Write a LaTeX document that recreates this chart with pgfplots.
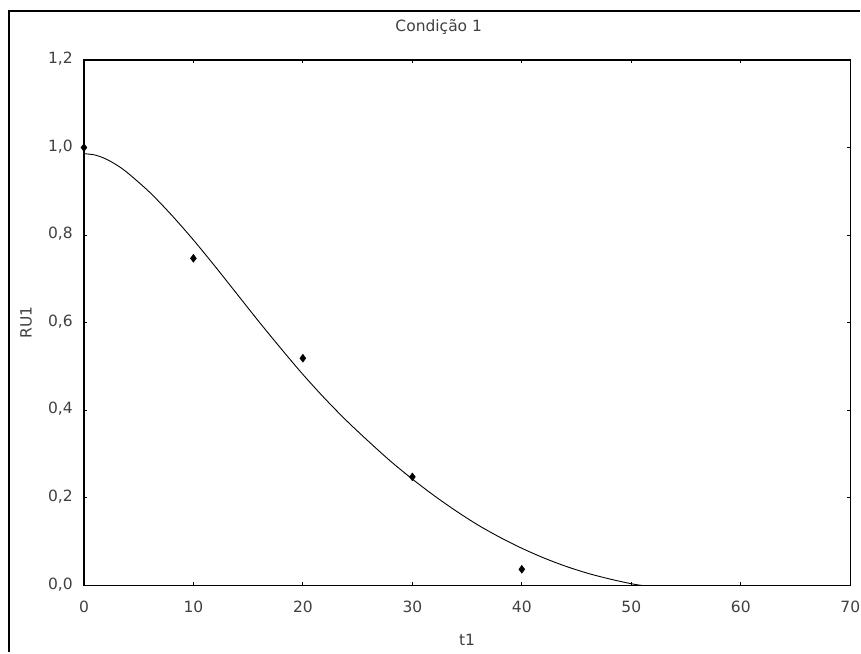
\documentclass[border=0pt]{standalone}
\usepackage{pgfplots}
\pgfplotsset{compat=1.18}
\usepackage{fontspec}
\setmainfont{DejaVu Sans}
\begin{document}
\fontsize{15.5}{18}\selectfont
\begin{tikzpicture}[x=1pt,y=1pt]
\path (0,0) rectangle (861,653);
\draw[black,line width=1.5pt] (9,0) -- (9,642) -- (861,642);
\begin{axis}[
  at={(84pt,67pt)}, anchor=south west,
  scale only axis, width=767pt, height=526pt,
  xmin=0, xmax=70, ymin=0, ymax=1.2,
  xtick={0,10,...,70}, ytick={0,0.2,...,1.2},
  axis line style={line width=1.3pt,black},
  tick align=inside, major tick length=3pt,
  tick style={line width=1pt,black},
  /pgf/number format/assume math mode=true,
  every tick label/.append style={font=\fontsize{15.5}{18}\selectfont, text=black!75},
  yticklabel style={/pgf/number format/.cd,use comma,fixed,fixed zerofill,precision=1,/tikz/.cd, anchor=base east, inner sep=0pt, xshift=-11pt, yshift=-3.6pt},
  xticklabel style={anchor=base, inner sep=0pt, yshift=-26.7pt},
  title={Condição 1},
  title style={at={(0.463,1)}, anchor=center, yshift=27pt, inner sep=0pt, font=\fontsize{15.5}{18}\selectfont, text=black!75},
  xlabel={t1},
  xlabel style={at={(axis description cs:0.5,0)}, anchor=base, inner sep=0pt, yshift=-60pt, font=\fontsize{15.5}{18}\selectfont, text=black!75},
  ylabel={RU1},
  ylabel style={at={(axis description cs:-0.0756,0.5)}, anchor=center, inner sep=0pt, font=\fontsize{15.5}{18}\selectfont, text=black!75},
  clip=false,
]
\addplot[black, line width=0.9pt, smooth] coordinates {
(0,0.986)(1,0.983)(2,0.974)(3,0.960)(4,0.942)(6,0.898)(8,0.846)(10,0.789)(12,0.728)(14,0.665)(16,0.602)(18,0.541)(20,0.482)(22,0.427)(24,0.376)(26,0.329)(28,0.284)(30,0.243)(32,0.205)(34,0.170)(36,0.138)(38,0.110)(40,0.085)(42,0.063)(44,0.044)(46,0.028)(48,0.015)(50,0.004)(51,0.0)
};
\addplot[only marks, mark=diamond*, mark size=4pt, black] coordinates {
(0,1.0)(10,0.747)(20,0.519)(30,0.248)(40,0.037)
};
\end{axis}
\end{tikzpicture}
\end{document}
